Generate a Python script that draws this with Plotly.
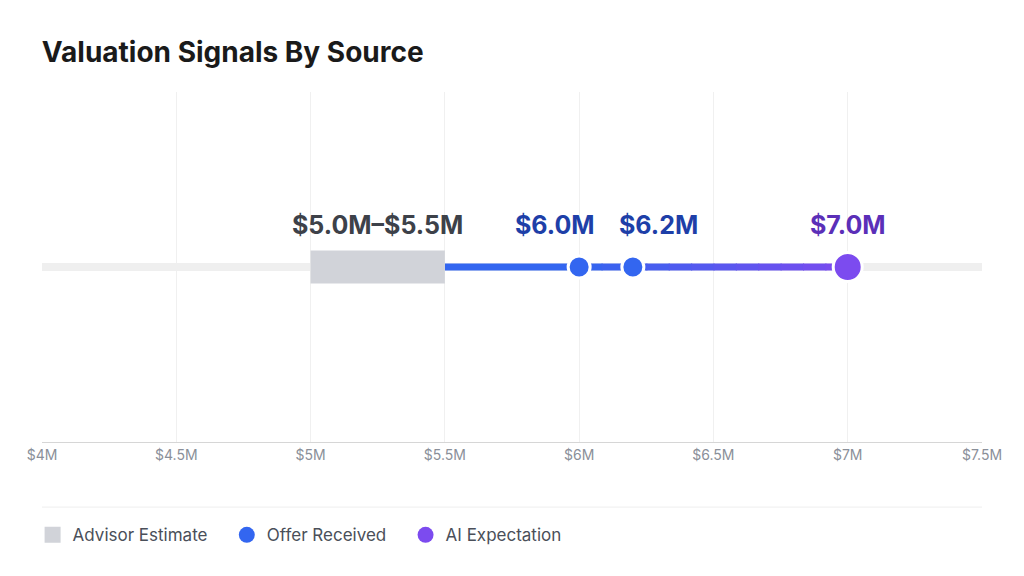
import plotly.graph_objs as go


def main():

    estimate = [5.0, 5.5]  # advisor range, $M
    offers = [6.0, 6.2]
    ai_value = 7.0
    blue = (51, 102, 240)
    purple = (124, 75, 239)

    fig = go.Figure()

    # background track
    fig.add_trace(go.Scatter(x=[4.0, 7.5], y=[0, 0], mode='lines',
                             line=dict(color='#efefef', width=8),
                             hoverinfo='skip', showlegend=False))

    # blue segment up to first offer
    fig.add_trace(go.Scatter(x=[estimate[1], offers[0]], y=[0, 0], mode='lines',
                             line=dict(color='rgb(%d,%d,%d)' % blue, width=7),
                             hoverinfo='skip', showlegend=False))
    # gradient from first offer to AI expectation
    steps = 12
    span = ai_value - offers[0]
    for i in range(steps):
        t = (i + 0.5) / steps
        c = tuple(int(blue[k] + (purple[k] - blue[k]) * t) for k in range(3))
        fig.add_trace(go.Scatter(x=[offers[0] + span * i / steps, offers[0] + span * (i + 1.05) / steps],
                                 y=[0, 0], mode='lines',
                                 line=dict(color='rgb(%d,%d,%d)' % c, width=7),
                                 hoverinfo='skip', showlegend=False))

    # advisor estimate box
    fig.add_shape(type='rect', x0=estimate[0], x1=estimate[1], y0=-0.094, y1=0.094,
                  fillcolor='#d1d3d9', line=dict(width=0), layer='above')

    fig.add_trace(go.Scatter(x=offers, y=[0, 0], mode='markers',
                             marker=dict(color='rgb(%d,%d,%d)' % blue, size=22,
                                         line=dict(color='white', width=3)),
                             showlegend=False))
    fig.add_trace(go.Scatter(x=[ai_value], y=[0], mode='markers',
                             marker=dict(color='rgb(%d,%d,%d)' % purple, size=29,
                                         line=dict(color='white', width=3)),
                             showlegend=False))

    # legend entries
    fig.add_trace(go.Scatter(x=[None], y=[None], mode='markers', name='Advisor Estimate   ',
                             marker=dict(color='#d1d3d9', size=17, symbol='square')))
    fig.add_trace(go.Scatter(x=[None], y=[None], mode='markers', name='Offer Received   ',
                             marker=dict(color='rgb(%d,%d,%d)' % blue, size=17)))
    fig.add_trace(go.Scatter(x=[None], y=[None], mode='markers', name='AI Expectation',
                             marker=dict(color='rgb(%d,%d,%d)' % purple, size=17)))

    labels = [((estimate[0] + estimate[1]) / 2, '$5.0M\u2013$5.5M', '#3d4149', 0),
              (offers[0], '$%.1fM' % offers[0], '#1e3fa8', -24),
              (offers[1], '$%.1fM' % offers[1], '#1e3fa8', 26),
              (ai_value, '$%.1fM' % ai_value, '#5b2fb8', 0)]
    for x, txt, col, shift in labels:
        fig.add_annotation(x=x, y=0.24, text='<b>' + txt + '</b>', showarrow=False, xshift=shift,
                           font=dict(size=25, color=col, family='Inter'))

    fig.add_shape(type='line', xref='paper', yref='paper', x0=0, x1=1, y0=-0.186, y1=-0.186,
                  line=dict(color='#eeeeee', width=1))

    fig.update_layout(
        title=dict(text='<b>Valuation Signals By Source</b>', x=0.033, y=0.94,
                   font=dict(size=28, color='#1a1a1a', family='Inter')),
        width=1024, height=576,
        margin=dict(l=34, r=50, t=84, b=142),
        plot_bgcolor='white', paper_bgcolor='white',
        font=dict(family='Inter', size=14),
        xaxis=dict(range=[4.0, 7.5], tickvals=[4, 4.5, 5, 5.5, 6, 6.5, 7, 7.5],
                   ticktext=['$4M', '$4.5M', '$5M', '$5.5M', '$6M', '$6.5M', '$7M', '$7.5M'],
                   showgrid=True, gridcolor='#f0f0f0', showline=True, linecolor='#d6d6d6',
                   tickfont=dict(color='#8a8f99', size=14), zeroline=False, fixedrange=True),
        yaxis=dict(range=[-1, 1], visible=False, fixedrange=True),
        legend=dict(orientation='h', x=-0.01, y=-0.215, yanchor='top',
                    font=dict(size=17, color='#4a4f59'), itemsizing='trace'),
    )

    fig.write_html("out.html")


if __name__ == "__main__":
    main()
